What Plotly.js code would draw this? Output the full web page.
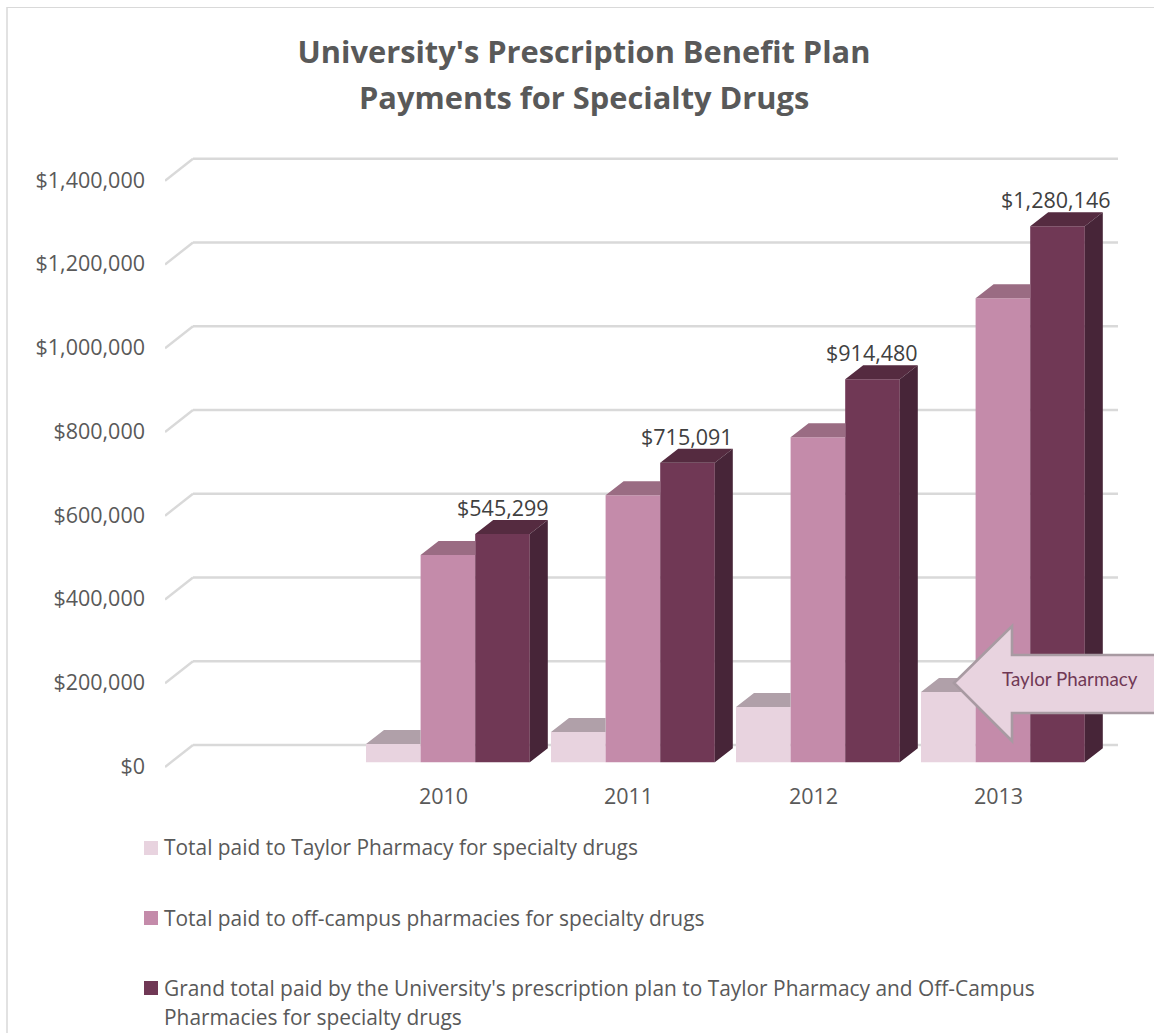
<!DOCTYPE html>
<html>
<head>
<meta charset="utf-8">
<script src="https://cdn.plot.ly/plotly-3.0.1.min.js"></script>
<style>html,body{margin:0;padding:0;background:#fff;overflow:hidden}#chart{width:1154px;height:1033px}</style>
</head>
<body>
<div id="chart"></div>
<script>
// Plan payments per year, in dollars
const years = ['2010', '2011', '2012', '2013'];
const taylorPaid = [43700, 72400, 132000, 168000];
const offCampusPaid = [495000, 638000, 776500, 1108000];
const grandTotal = [545299, 715091, 914480, 1280146];
const totalLabels = ['$545,299', '$715,091', '$914,480', '$1,280,146'];
const axisValues = [0, 200000, 400000, 600000, 800000, 1000000, 1200000, 1400000];
const axisLabels = ['$0', '$200,000', '$400,000', '$600,000', '$800,000', '$1,000,000', '$1,200,000', '$1,400,000'];
const legendNames = [
  'Total paid to Taylor Pharmacy for specialty drugs',
  'Total paid to off-campus pharmacies for specialty drugs',
  "Grand total paid by the University's prescription plan to Taylor Pharmacy and Off-Campus",
  'Pharmacies for specialty drugs'
];

// Pixel frame of the plot area and the scale of both axes
const W = 1154, H = 1033;
const plotLeft = 165, plotTop = 130, plotBottom = 772;
const slotPx = 185, slotOnePx = 443.5;
const zeroPx = 762.3, pxPerDollar = 83.75 / 200000;
const xOf = px => 1 + (px - slotOnePx) / slotPx;
const yOf = px => (zeroPx - px) / pxPerDollar;
const paperX = px => (px - plotLeft) / (W - plotLeft);
const paperY = px => (plotBottom - px) / (plotBottom - plotTop);

// Extruded look: depth of a bar and of the floor, in axis units
const barDx = 18 / slotPx, barDy = 14 / pxPerDollar;
const barWidth = 54.6 / slotPx;
const barOffsets = [-77.5 / slotPx, -22.9 / slotPx, 31.7 / slotPx];
const series = [
  {name: legendNames[0], y: taylorPaid, front: '#E8D3DF', top: '#B0A0A9', side: '#9D8C96'},
  {name: legendNames[1], y: offCampusPaid, front: '#C48BAA', top: '#9A6C83', side: '#7E5369'},
  {name: 'Grand total', y: grandTotal, front: '#703855', top: '#552B40', side: '#472538'}
];

const traces = [];
series.forEach((s, k) => {
  traces.push({
    type: 'bar', x: [1, 2, 3, 4], y: s.y, width: barWidth, offset: barOffsets[k],
    marker: {color: s.front, line: {width: 0}}, showlegend: false, hoverinfo: 'skip'
  });
  const topX = [], topY = [], sideX = [], sideY = [];
  s.y.forEach((v, i) => {
    const x0 = i + 1 + barOffsets[k], x1 = x0 + barWidth;
    const covered = k < series.length - 1;     // the taller neighbour hides the right part
    const backRight = covered ? x1 : x1 + barDx;
    topX.push(x0, x0 + barDx, backRight, x1, x0, null);
    topY.push(v, v + barDy, v + barDy, v, v, null);
    if (!covered) {
      sideX.push(x1, x1 + barDx, x1 + barDx, x1, x1, null);
      sideY.push(0, barDy, v + barDy, v, 0, null);
    }
  });
  traces.push({type: 'scatter', mode: 'lines', x: topX, y: topY, fill: 'toself', fillcolor: s.top,
    line: {width: 0, color: s.top}, showlegend: false, hoverinfo: 'skip'});
  if (sideX.length) {
    traces.push({type: 'scatter', mode: 'lines', x: sideX, y: sideY, fill: 'toself', fillcolor: s.side,
      line: {width: 0, color: s.side}, showlegend: false, hoverinfo: 'skip'});
  }
});

// Back-wall gridlines with their slanted run across the side wall
const wallRise = 17.3 / pxPerDollar, frontDrop = 4.7 / pxPerDollar;
const gridLine = {color: '#D9D9D9', width: 2.4};
const shapes = [];
axisValues.forEach(v => {
  shapes.push({type: 'line', layer: 'below', xref: 'x', yref: 'y', x0: xOf(193), x1: xOf(1118),
    y0: v + wallRise, y1: v + wallRise, line: gridLine});
  shapes.push({type: 'line', layer: 'below', xref: 'x', yref: 'y', x0: xOf(165), x1: xOf(193),
    y0: v - frontDrop, y1: v + wallRise, line: gridLine});
});

// Outer frame of the chart, visible on the left and at the top
shapes.push({type: 'line', xref: 'paper', yref: 'paper', x0: paperX(7), x1: paperX(7), y0: paperY(7), y1: paperY(H),
  line: {color: '#D9D9D9', width: 1.5}});
shapes.push({type: 'line', xref: 'paper', yref: 'paper', x0: paperX(7), x1: paperX(W), y0: paperY(7.5), y1: paperY(7.5),
  line: {color: '#D9D9D9', width: 1}});

// Legend swatches
const swatchTops = [841, 911, 981];
series.forEach((s, k) => {
  shapes.push({type: 'rect', xref: 'paper', yref: 'paper', layer: 'above',
    x0: paperX(144), x1: paperX(158), y0: paperY(swatchTops[k]), y1: paperY(swatchTops[k] + 14),
    fillcolor: s.front, line: {width: 0}});
});

// Callout arrow pointing at the Taylor Pharmacy bar of the last year
const arrowPts = [[954, 683], [1012, 626], [1012, 655], [1158, 655], [1158, 713], [1012, 713], [1012, 741]];
shapes.push({type: 'path', xref: 'paper', yref: 'paper', layer: 'above',
  path: 'M' + arrowPts.map(p => paperX(p[0]) + ',' + paperY(p[1])).join(' L') + ' Z',
  fillcolor: '#E8D3DF', line: {color: '#A89AA2', width: 2.6}});

const axisFont = {family: '"Open Sans", sans-serif', size: 21.5, color: '#595959'};
const legendFont = {family: '"Open Sans", sans-serif', size: 20.9, color: '#595959'};
const titleFont = {family: '"Open Sans", sans-serif', size: 30.8, color: '#595959', weight: 700};
const annotations = [];

// Value labels above the grand-total bars
const labelNudge = [0, -1, -1, -2];
totalLabels.forEach((text, i) => {
  annotations.push({
    text, xref: 'x', yref: 'y', x: i + 1 + barOffsets[2] + barWidth / 2, y: grandTotal[i],
    xanchor: 'center', yanchor: 'middle', yshift: 26.5, xshift: labelNudge[i], showarrow: false,
    font: {family: '"Open Sans", sans-serif', size: 21.5, color: '#404040'}
  });
});

// Legend text
[847, 918, 988, 1017].forEach((py, i) => {
  annotations.push({
    text: legendNames[i], xref: 'paper', yref: 'paper', x: paperX(161.5), y: paperY(py),
    xanchor: 'left', yanchor: 'middle', showarrow: false, font: legendFont
  });
});

annotations.push({
  text: 'Taylor Pharmacy', xref: 'paper', yref: 'paper', x: paperX(1069.5), y: paperY(678),
  xanchor: 'center', yanchor: 'middle', showarrow: false,
  font: {family: 'Lato, sans-serif', size: 18.8, color: '#703855'}
});

// Second line of the heading, set with wider leading than a line break gives
annotations.push({
  text: 'Payments for Specialty Drugs', xref: 'paper', yref: 'paper', x: paperX(584), y: paperY(97),
  xanchor: 'center', yanchor: 'middle', showarrow: false, font: titleFont
});

const layout = {
  width: W, height: H,
  paper_bgcolor: '#fff', plot_bgcolor: 'rgba(0,0,0,0)',
  margin: {l: plotLeft, r: 0, t: plotTop, b: H - plotBottom, pad: 0},
  title: {
    text: "University's Prescription Benefit Plan",
    font: titleFont,
    x: 584 / W, xanchor: 'center', y: 1 - 52 / H, yanchor: 'middle'
  },
  barmode: 'overlay',
  showlegend: false,
  xaxis: {
    type: 'linear', range: [xOf(plotLeft), xOf(W)], tickmode: 'array', tickvals: [1, 2, 3, 4], ticktext: years,
    showgrid: false, zeroline: false, showline: false, ticks: '', tickfont: axisFont, ticklabelstandoff: 9
  },
  yaxis: {
    range: [yOf(plotBottom), yOf(plotTop)], tickmode: 'array', tickvals: axisValues, ticktext: axisLabels,
    showgrid: false, zeroline: false, showline: false, ticks: '', tickfont: axisFont,
    ticklabelstandoff: 19, ticklabelshift: 4
  },
  shapes, annotations
};

Plotly.newPlot('chart', traces, layout, {staticPlot: true, displayModeBar: false});
</script>
</body>
</html>
